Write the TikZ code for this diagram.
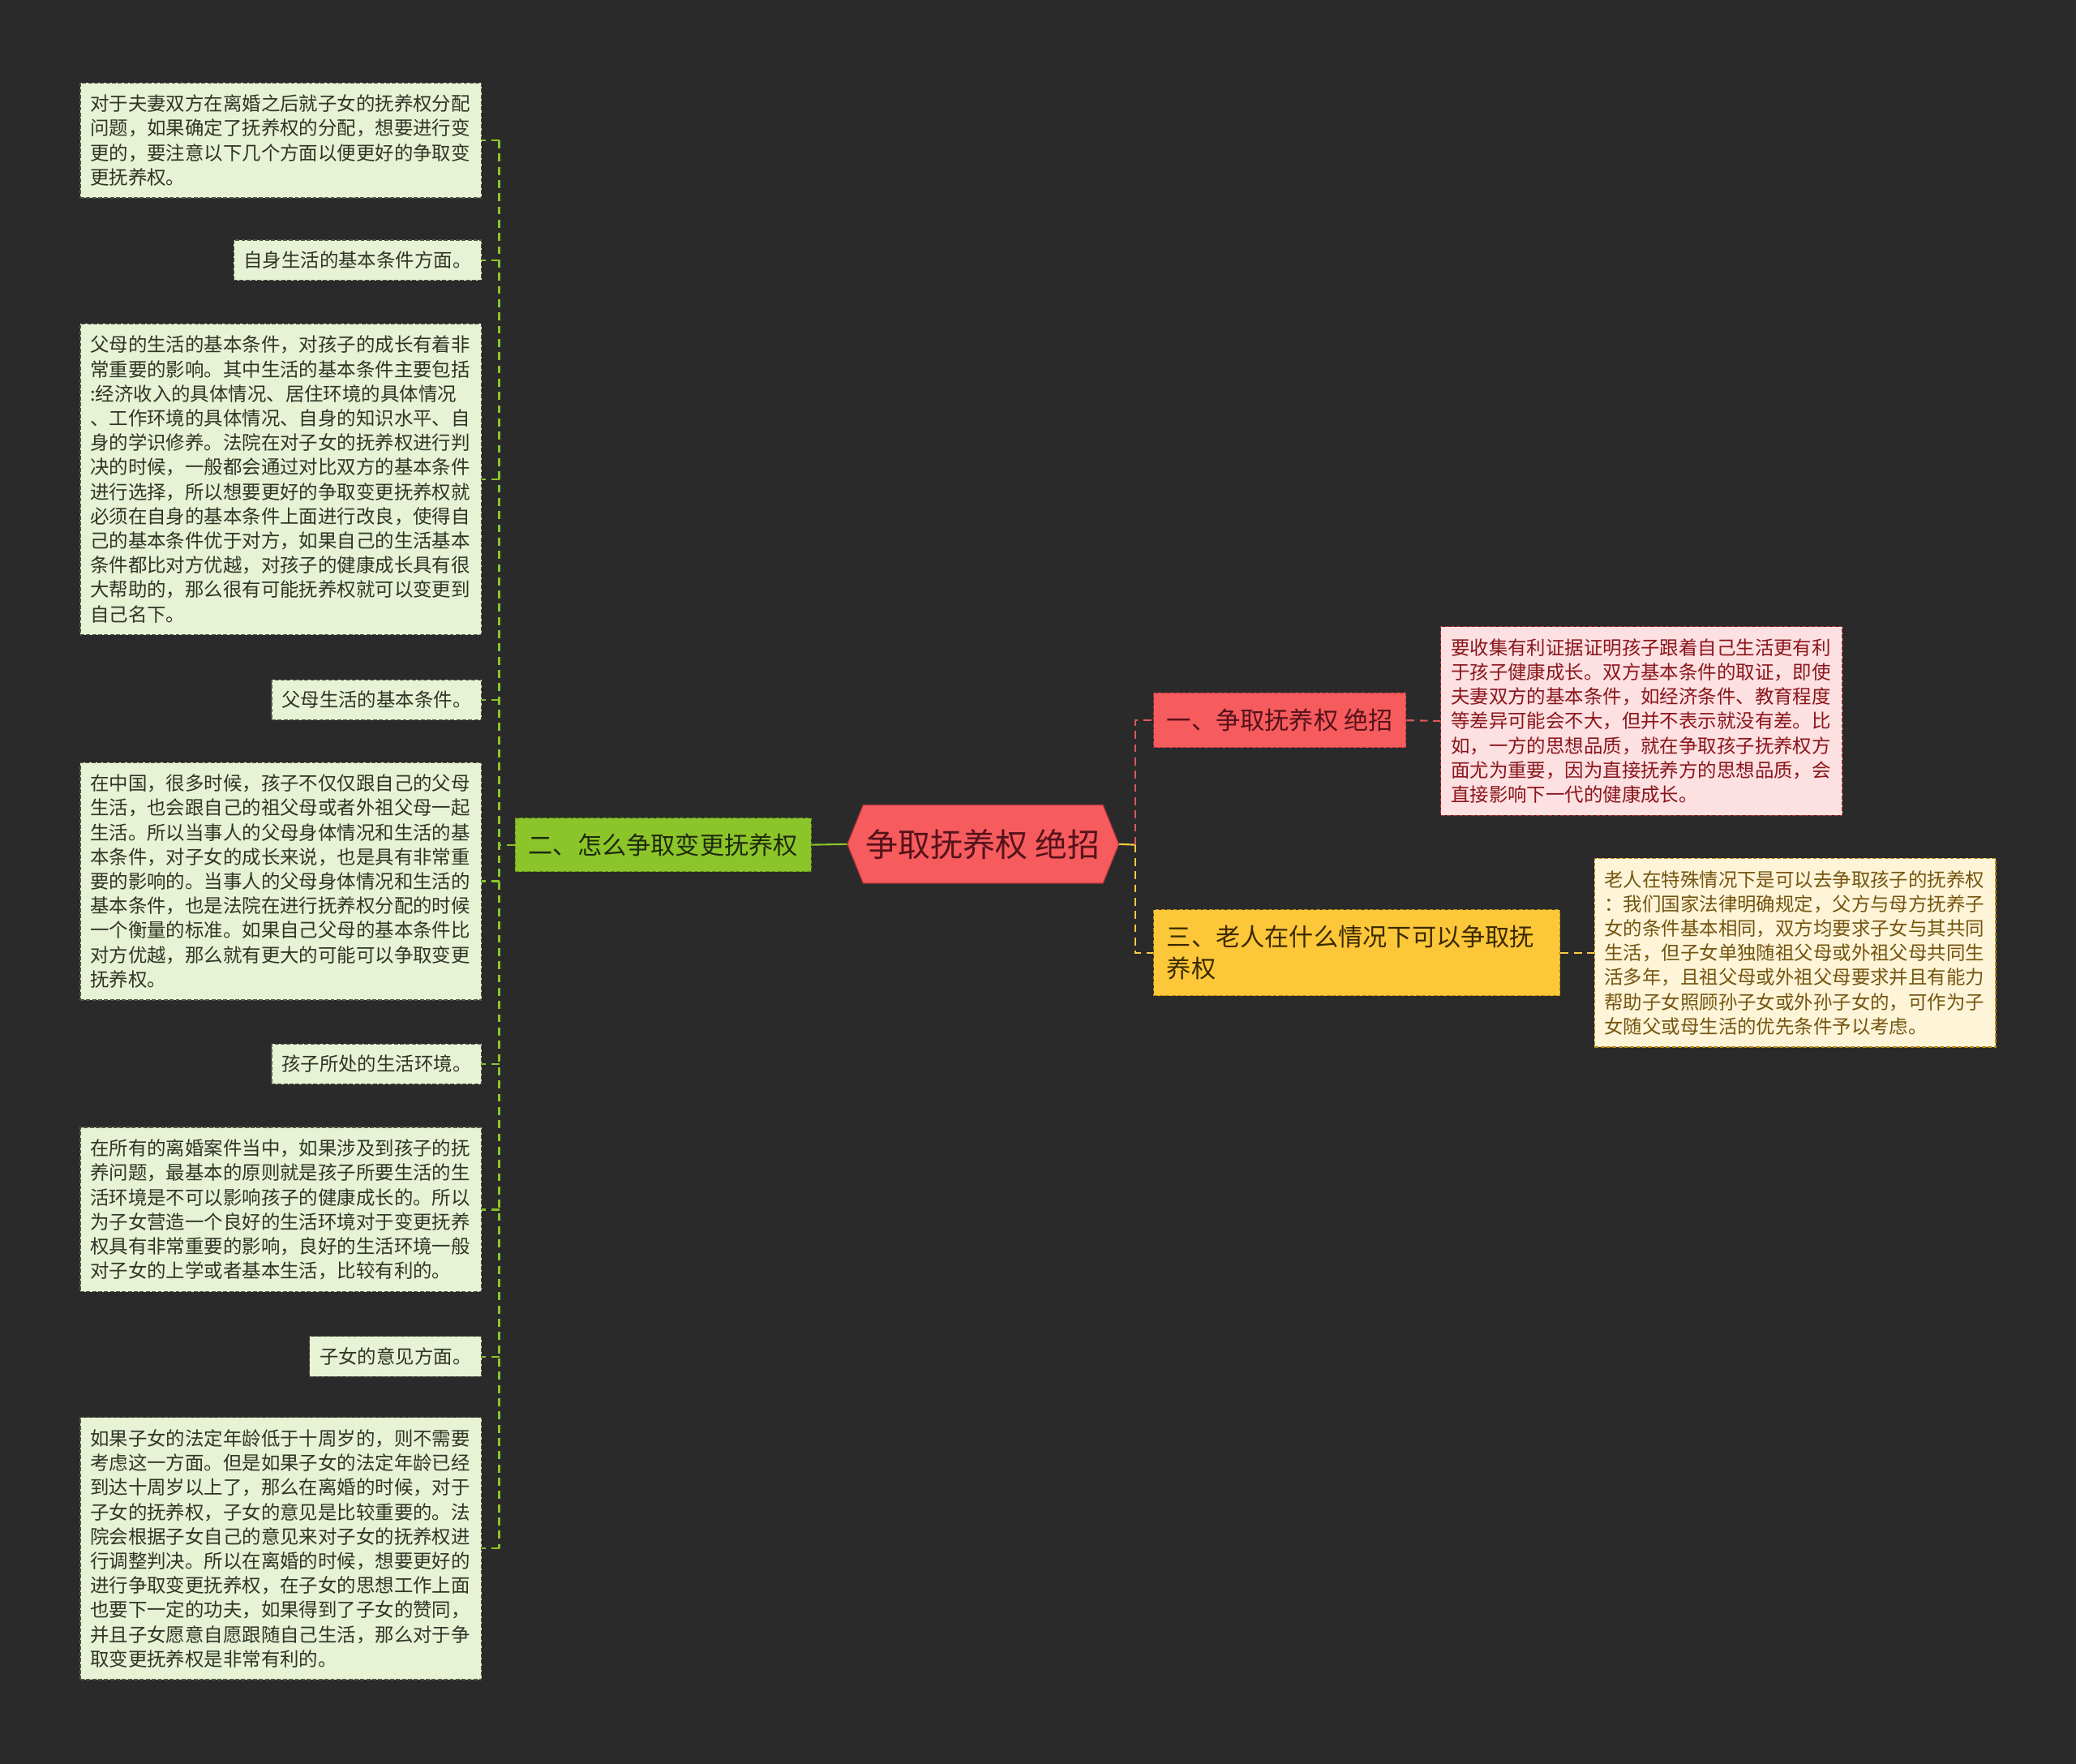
\documentclass[tikz,border=0pt]{standalone}
\usepackage{fontspec}
\setmainfont{Noto Sans CJK SC}
\usepackage{xcolor}
\usetikzlibrary{positioning,shapes.symbols}
\definecolor{bgdark}{HTML}{2A2A2A}
\definecolor{leafgreen}{HTML}{E8F2D5}
\definecolor{leafink}{HTML}{2F3626}
\definecolor{leafedge}{HTML}{4E5544}
\definecolor{twig}{HTML}{8BC52A}
\definecolor{twigink}{HTML}{1E2A0C}
\definecolor{twigedge}{HTML}{5E8E18}
\definecolor{rose}{HTML}{F65B5E}
\definecolor{roseink}{HTML}{55121A}
\definecolor{roseedge}{HTML}{B8363B}
\definecolor{gold}{HTML}{FDC73A}
\definecolor{goldink}{HTML}{3A2A00}
\definecolor{goldedge}{HTML}{B88A10}
\definecolor{blush}{HTML}{FDE0E1}
\definecolor{blushink}{HTML}{8A161C}
\definecolor{cream}{HTML}{FEF5D9}
\definecolor{creamink}{HTML}{755510}
\definecolor{roseline}{HTML}{E0575C}
\definecolor{goldline}{HTML}{FCCB45}

\begin{document}
\begin{tikzpicture}[
  x=1pt, y=-1pt,
  every node/.style={font=\fontsize{14.35}{18.5}\selectfont},
  leaf/.style={draw=leafedge, dash pattern=on 3pt off 1.5pt, line width=0.7pt, fill=leafgreen, text=leafink, align=left, inner xsep=7.5pt, inner ysep=8.5pt, anchor=east},
  note/.style={leaf, text width=288pt, inner ysep=9pt},
  branch/.style={dash pattern=on 3pt off 1.5pt, line width=0.7pt, inner xsep=10pt, font=\fontsize{18.5}{24}\selectfont, align=left},
  hub/.style={signal, signal to=west and east, signal pointer angle=136, fill=rose, draw=roseedge, line width=0.7pt, text=roseink, minimum width=205pt, minimum height=59pt, inner xsep=0pt, font=\fontsize{24.5}{28}\selectfont},
  link/.style={dash pattern=on 6pt off 4pt, line width=1.3pt}
]
\fill[bgdark] (0,0) rectangle (1568,1332);

% centre and main branches
\node[hub] (hub) at (742.5,637.5) {争取抚养权 绝招};
\node[branch, fill=twig, draw=twigedge, text=twigink, inner ysep=11.5pt, anchor=east] (how) at (613,638) {二、怎么争取变更抚养权};
\node[branch, fill=rose, draw=roseedge, text=roseink, inner ysep=12pt, anchor=west] (trick) at (871,544) {一、争取抚养权 绝招};
\node[branch, fill=gold, draw=goldedge, text=goldink, text width=287pt, inner ysep=12pt, anchor=west] (elder) at (871,719.5) {三、老人在什么情况下可以争取抚\\养权};

% right leaves
\node[note, fill=blush, draw=roseedge, text=blushink, anchor=west] (proof) at (1088,544.5) {要收集有利证据证明孩子跟着自己生活更有利\\于孩子健康成长。双方基本条件的取证，即使\\夫妻双方的基本条件，如经济条件、教育程度\\等差异可能会不大，但并不表示就没有差。比\\如，一方的思想品质，就在争取孩子抚养权方\\面尤为重要，因为直接抚养方的思想品质，会\\直接影响下一代的健康成长。};
\node[note, fill=cream, draw=goldedge, text=creamink, anchor=west] (grand) at (1204,719.5) {老人在特殊情况下是可以去争取孩子的抚养权\\：我们国家法律明确规定，父方与母方抚养子\\女的条件基本相同，双方均要求子女与其共同\\生活，但子女单独随祖父母或外祖父母共同生\\活多年，且祖父母或外祖父母要求并且有能力\\帮助子女照顾孙子女或外孙子女的，可作为子\\女随父或母生活的优先条件予以考虑。};

% left leaves
\node[note] (intro) at (364,106) {对于夫妻双方在离婚之后就子女的抚养权分配\\问题，如果确定了抚养权的分配，想要进行变\\更的，要注意以下几个方面以便更好的争取变\\更抚养权。};
\node[leaf] (selfcue) at (364,196.5) {自身生活的基本条件方面。};
\node[note] (selfnote) at (364,362) {父母的生活的基本条件，对孩子的成长有着非\\常重要的影响。其中生活的基本条件主要包括\\:经济收入的具体情况、居住环境的具体情况\\、工作环境的具体情况、自身的知识水平、自\\身的学识修养。法院在对子女的抚养权进行判\\决的时候，一般都会通过对比双方的基本条件\\进行选择，所以想要更好的争取变更抚养权就\\必须在自身的基本条件上面进行改良，使得自\\己的基本条件优于对方，如果自己的生活基本\\条件都比对方优越，对孩子的健康成长具有很\\大帮助的，那么很有可能抚养权就可以变更到\\自己名下。};
\node[leaf] (parentcue) at (364,528.5) {父母生活的基本条件。};
\node[note] (parentnote) at (364,665.5) {在中国，很多时候，孩子不仅仅跟自己的父母\\生活，也会跟自己的祖父母或者外祖父母一起\\生活。所以当事人的父母身体情况和生活的基\\本条件，对子女的成长来说，也是具有非常重\\要的影响的。当事人的父母身体情况和生活的\\基本条件，也是法院在进行抚养权分配的时候\\一个衡量的标准。如果自己父母的基本条件比\\对方优越，那么就有更大的可能可以争取变更\\抚养权。};
\node[leaf] (homecue) at (364,803.5) {孩子所处的生活环境。};
\node[note] (homenote) at (364,913.5) {在所有的离婚案件当中，如果涉及到孩子的抚\\养问题，最基本的原则就是孩子所要生活的生\\活环境是不可以影响孩子的健康成长的。所以\\为子女营造一个良好的生活环境对于变更抚养\\权具有非常重要的影响，良好的生活环境一般\\对子女的上学或者基本生活，比较有利的。};
\node[leaf] (viewcue) at (364,1024.5) {子女的意见方面。};
\node[note] (viewnote) at (364,1169.5) {如果子女的法定年龄低于十周岁的，则不需要\\考虑这一方面。但是如果子女的法定年龄已经\\到达十周岁以上了，那么在离婚的时候，对于\\子女的抚养权，子女的意见是比较重要的。法\\院会根据子女自己的意见来对子女的抚养权进\\行调整判决。所以在离婚的时候，想要更好的\\进行争取变更抚养权，在子女的思想工作上面\\也要下一定的功夫，如果得到了子女的赞同，\\并且子女愿意自愿跟随自己生活，那么对于争\\取变更抚养权是非常有利的。};

% connectors
\coordinate (lspine) at (377,638);
\coordinate (rspine) at (857.5,638);
\draw[twig, line width=1.3pt] (hub.west) -- (how.east);
\draw[link, twig] (how.west) -- (lspine);
\draw[link, twig] (lspine |- intro.east) -- (lspine |- viewnote.east);
\foreach \leafname in {intro,selfcue,selfnote,parentcue,parentnote,homecue,homenote,viewcue,viewnote}
  \draw[link, twig] (lspine |- \leafname.east) -- (\leafname.east);
\draw[goldline, line width=1.3pt] (hub.east) -- (rspine);
\draw[link, roseline] (rspine) |- (trick.west);
\draw[link, goldline] (rspine) |- (elder.west);
\draw[link, roseline] (trick.east) -- (proof.west);
\draw[link, goldline] (elder.east) -- (grand.west);
\end{tikzpicture}
\end{document}
